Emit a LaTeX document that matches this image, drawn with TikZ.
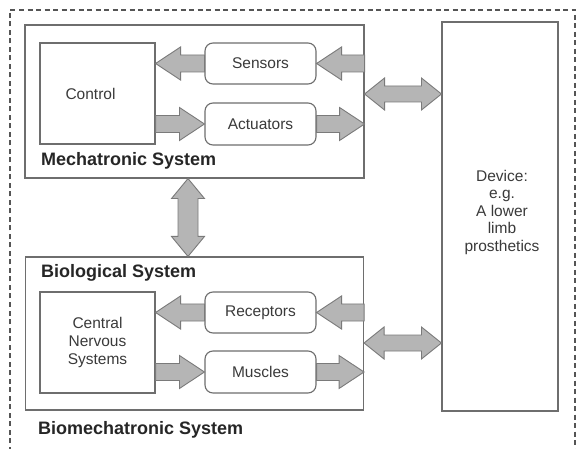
\documentclass[tikz,border=0pt]{standalone}
\usepackage{fontspec}
\setmainfont{Liberation Sans}
\usetikzlibrary{calc}

\definecolor{edge}{HTML}{6E6E6E}
\definecolor{frame}{HTML}{555555}
\definecolor{arrowfill}{HTML}{B5B5B5}
\definecolor{arrowline}{HTML}{7A7A7A}
\definecolor{ink}{HTML}{3A3A3A}

% one-headed block arrow: #1 tail, #2 tip, #3 shaft half width, #4 head half width, #5 head length
\newcommand\blockarrow[5]{%
  \coordinate (ba-h) at ($(#2)!#5!(#1)$);
  \draw[fatarrow] ($(#1)!#3!90:(#2)$) -- ($(ba-h)!#3!90:(#2)$) -- ($(ba-h)!#4!90:(#2)$)
    -- (#2) -- ($(ba-h)!#4!-90:(#2)$) -- ($(ba-h)!#3!-90:(#2)$) -- ($(#1)!#3!-90:(#2)$) -- cycle;}

% two-headed block arrow between #1 and #2
\newcommand\dblarrow[5]{%
  \coordinate (da-a) at ($(#1)!#5!(#2)$);
  \coordinate (da-b) at ($(#2)!#5!(#1)$);
  \draw[fatarrow] (#1) -- ($(da-a)!#4!90:(#2)$) -- ($(da-a)!#3!90:(#2)$) -- ($(da-b)!#3!90:(#2)$)
    -- ($(da-b)!#4!90:(#2)$) -- (#2) -- ($(da-b)!#4!-90:(#2)$) -- ($(da-b)!#3!-90:(#2)$)
    -- ($(da-a)!#3!-90:(#2)$) -- ($(da-a)!#4!-90:(#2)$) -- cycle;}

\tikzset{
  sysbox/.style={draw=edge, line width=1.1pt, fill=white, inner sep=0pt},
  unitbox/.style={draw=edge, line width=1.1pt, fill=white, inner sep=0pt, text=ink,
    font=\fontsize{15.5}{18}\selectfont, align=center},
  roundbox/.style={unitbox, rounded corners=8pt, minimum width=111pt},
  title/.style={anchor=west, inner sep=0pt, text=black!85, font=\fontsize{18}{21}\selectfont\bfseries},
  fatarrow/.style={fill=arrowfill, draw=arrowline, line width=0.9pt, line join=miter},
}

\begin{document}
\begin{tikzpicture}[x=1pt, y=-1pt]
\useasboundingbox (0,0) rectangle (576,449);
\fill[white] (0,0) rectangle (576,449);

% outer dashed frame (its bottom edge lies below the page)
\draw[frame, line width=1.1pt, dash pattern=on 5pt off 3.5pt] (10,460) -- (10,10) -- (575,10) -- (575,460);

% mechatronic part
\node[sysbox, minimum width=339pt, minimum height=153pt] (mech) at (194.5,101.5) {};
\node[unitbox, minimum width=115pt, minimum height=101pt] (ctrl) at (97.5,93.5) {\hspace*{-14pt}Control};
\node[roundbox, minimum height=41pt] (sens) at (260.5,63.5) {Sensors};
\node[roundbox, minimum height=42pt] (act) at (260.5,124) {Actuators};
\node[title] (mechlbl) at (41,161) {Mechatronic System};

% biological part
\node[sysbox, minimum width=338pt, minimum height=153pt] (bio) at (194.5,333.5) {};
\node[unitbox, minimum width=115pt, minimum height=101pt] (cns) at (97.5,342.5) {Central\\Nervous\\Systems};
\node[roundbox, minimum height=41pt] (rec) at (260.5,312.5) {Receptors};
\node[roundbox, minimum height=42pt] (mus) at (260.5,372) {Muscles};
\node[title] (biolbl) at (41,273) {Biological System};

% device
\node[unitbox, minimum width=116pt, minimum height=389pt] (dev) at (500,216.5) {};
\node[text=ink, font=\fontsize{15.5}{17.5}\selectfont, align=center, inner sep=0pt]
  (devtxt) at (502,212) {Device:\\e.g.\\A lower\\limb\\prosthetics};

\node[title] (biomech) at (38,430) {Biomechatronic System};

% connection points on the system borders
\coordinate (sin) at (mech.east |- sens.east);
\coordinate (aout) at (mech.east |- act.east);
\coordinate (rin) at (bio.east |- rec.east);
\coordinate (mout) at (bio.east |- mus.east);
\coordinate (cs) at (ctrl.east |- sens.west);
\coordinate (ca) at (ctrl.east |- act.west);
\coordinate (nr) at (cns.east |- rec.west);
\coordinate (nm) at (cns.east |- mus.west);
\coordinate (mdev) at (mech.east |- 0,94);
\coordinate (ddev) at (dev.west |- 0,94);
\coordinate (bdev) at (bio.east |- 0,343);
\coordinate (ddev2) at (dev.west |- 0,343);
\coordinate (mdown) at (188,0 |- mech.south);
\coordinate (bup) at (188,0 |- bio.north);

% signal flow inside the mechatronic system
\blockarrow{sens.west}{cs}{8.5pt}{16.5pt}{25pt}
\blockarrow{sin}{sens.east}{8.5pt}{16.5pt}{25pt}
\blockarrow{ca}{act.west}{8.5pt}{16.5pt}{25pt}
\blockarrow{act.east}{aout}{8.5pt}{16.5pt}{25pt}

% signal flow inside the biological system
\blockarrow{rec.west}{nr}{8.5pt}{16.5pt}{25pt}
\blockarrow{rin}{rec.east}{8.5pt}{16.5pt}{25pt}
\blockarrow{nm}{mus.west}{8.5pt}{16.5pt}{25pt}
\blockarrow{mus.east}{mout}{8.5pt}{16.5pt}{25pt}

% exchanges between the systems and the device
\dblarrow{mdown}{bup}{10pt}{16.5pt}{20pt}
\dblarrow{mdev}{ddev}{8pt}{16pt}{20pt}
\dblarrow{bdev}{ddev2}{8pt}{16pt}{20pt}
\end{tikzpicture}
\end{document}
